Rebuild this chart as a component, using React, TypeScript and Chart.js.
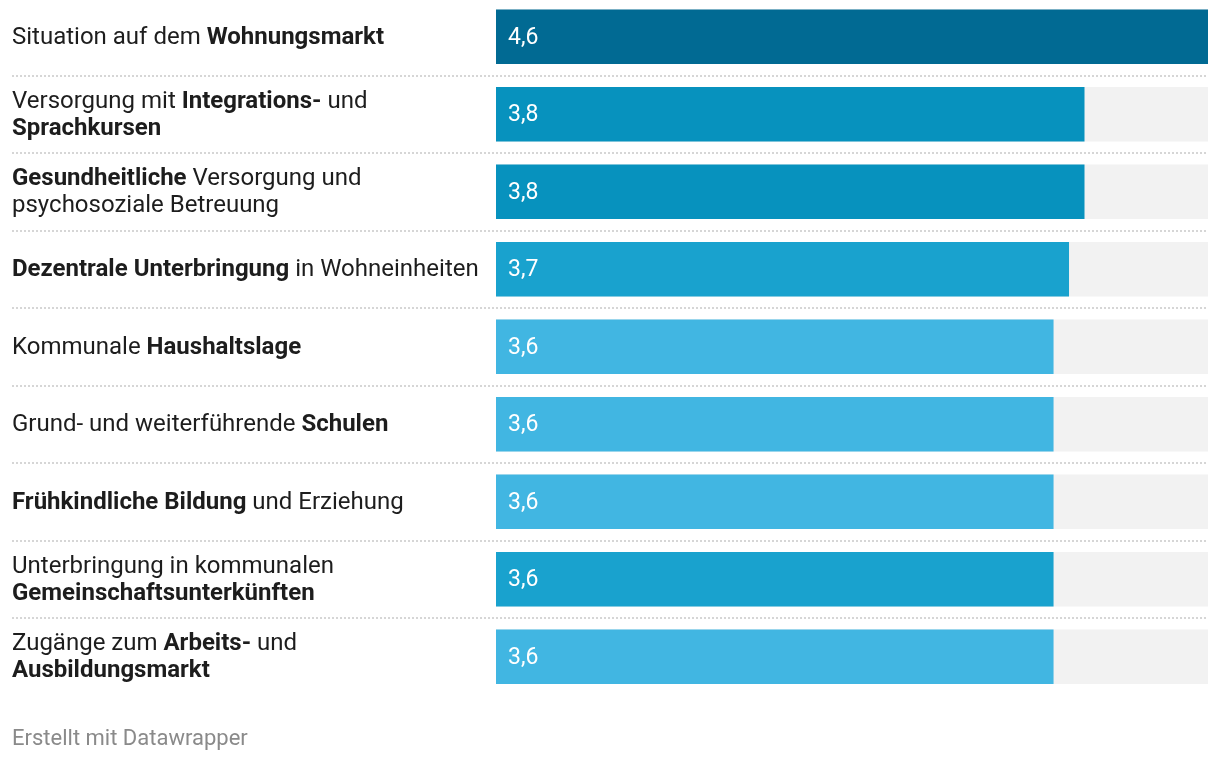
import React, { useEffect, useRef } from "react";
import { Chart, registerables } from "chart.js";

Chart.register(...registerables);

// **bold** markup, "\n" line breaks
const categories: string[] = [
  "Situation auf dem **Wohnungsmarkt**",
  "Versorgung mit **Integrations-** und\n**Sprachkursen**",
  "**Gesundheitliche** Versorgung und\npsychosoziale Betreuung",
  "**Dezentrale Unterbringung** in Wohneinheiten",
  "Kommunale **Haushaltslage**",
  "Grund- und weiterführende **Schulen**",
  "**Frühkindliche Bildung** und Erziehung",
  "Unterbringung in kommunalen\n**Gemeinschaftsunterkünften**",
  "Zugänge zum **Arbeits-** und\n**Ausbildungsmarkt**",
];

const values: number[] = [4.6, 3.8, 3.8, 3.7, 3.6, 3.6, 3.6, 3.6, 3.6];

const barColors: string[] = [
  "#016a93",
  "#0792be",
  "#0792be",
  "#19a2ce",
  "#41b6e2",
  "#41b6e2",
  "#41b6e2",
  "#19a2ce",
  "#41b6e2",
];

const scaleMax = 4.6;
const footerText = "Erstellt mit Datawrapper";

const FONT = "Roboto, 'Noto Sans', sans-serif";
const LABEL_SIZE = 24;
const VALUE_SIZE = 23;
const LINE_H = 27;

function parseLine(line: string): { text: string; bold: boolean }[] {
  const parts = line.split("**");
  return parts
    .map((t, i) => ({ text: t, bold: i % 2 === 1 }))
    .filter((p) => p.text.length > 0);
}

const rowPlugin = {
  id: "rowDecor",
  beforeDatasetsDraw(chart: any) {
    const { ctx } = chart;
    const y = chart.scales.y;
    ctx.save();
    ctx.strokeStyle = "#d6d6d6";
    ctx.lineWidth = 2;
    ctx.setLineDash([2, 2]);
    for (let i = 0; i < categories.length - 1; i++) {
      const yy = Math.round((y.getPixelForValue(i) + y.getPixelForValue(i + 1)) / 2);
      ctx.beginPath();
      ctx.moveTo(12, yy);
      ctx.lineTo(1208, yy);
      ctx.stroke();
    }
    ctx.restore();
  },
  afterDatasetsDraw(chart: any) {
    const { ctx } = chart;
    const y = chart.scales.y;
    const x = chart.scales.x;
    ctx.save();
    ctx.textBaseline = "middle";
    ctx.textAlign = "left";
    categories.forEach((cat, i) => {
      const cy = y.getPixelForValue(i);
      const lines = cat.split("\n");
      const startY = cy - ((lines.length - 1) * LINE_H) / 2;
      lines.forEach((line, li) => {
        let cx = 12;
        const ly = startY + li * LINE_H;
        parseLine(line).forEach((seg) => {
          ctx.font = `${seg.bold ? "bold " : ""}${LABEL_SIZE}px ${FONT}`;
          ctx.fillStyle = "#1d1d1d";
          ctx.fillText(seg.text, cx, ly + 1);
          cx += ctx.measureText(seg.text).width;
        });
      });
      // value label
      ctx.font = `${VALUE_SIZE}px ${FONT}`;
      ctx.fillStyle = "#ffffff";
      ctx.fillText(values[i].toFixed(1).replace(".", ","), x.getPixelForValue(0) + 12, cy + 1);
    });
    // footer
    ctx.font = `22px ${FONT}`;
    ctx.fillStyle = "#8a8a8a";
    ctx.fillText(footerText, 12, 741);
    ctx.restore();
  },
};

export default function App() {
  const ref = useRef<HTMLCanvasElement | null>(null);
  useEffect(() => {
    document.body.style.margin = "0";
    const canvas = ref.current!;
    const chart = new Chart(canvas, {
      type: "bar",
      data: {
        labels: categories,
        datasets: [
          {
            data: values,
            backgroundColor: barColors,
            barThickness: 54,
            grouped: false,
            order: 1,
          },
          {
            data: values.map(() => scaleMax),
            backgroundColor: "#f2f2f2",
            barThickness: 54,
            grouped: false,
            order: 2,
          },
        ],
      },
      options: {
        indexAxis: "y",
        animation: false,
        responsive: false,
        devicePixelRatio: 1,
        layout: { padding: { left: 496, right: 12, top: 0, bottom: 68.5 } },
        scales: {
          x: { display: false, min: 0, max: scaleMax },
          y: { display: false },
        },
        plugins: {
          legend: { display: false },
          tooltip: { enabled: false },
        },
      },
      plugins: [rowPlugin],
    });
    return () => chart.destroy();
  }, []);
  return (
    <div style={{ position: "absolute", left: 0, top: -2, width: 1220, height: 766, overflow: "visible" }}>
      <canvas ref={ref} width={1220} height={766} style={{ display: "block" }} />
    </div>
  );
}
